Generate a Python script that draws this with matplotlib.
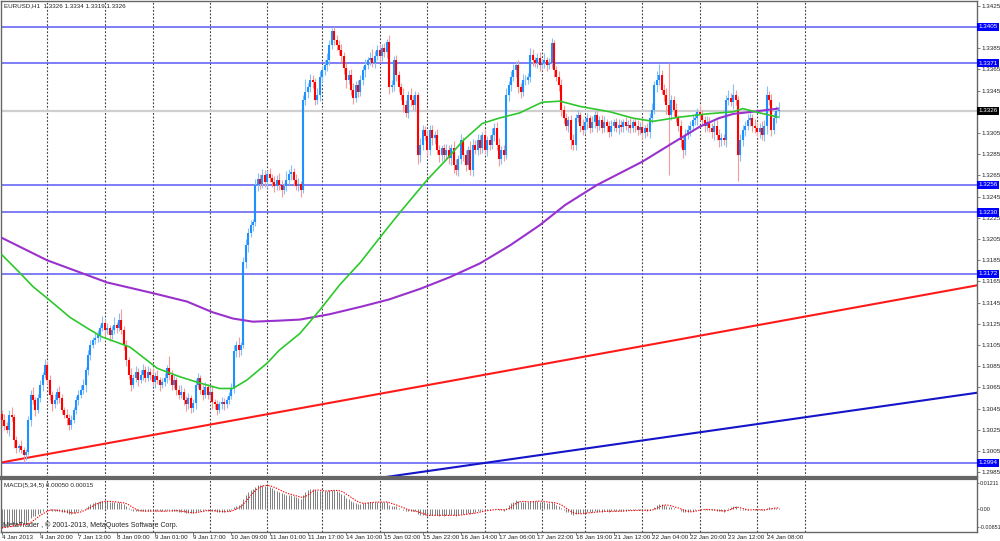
import numpy as np
import pandas as pd
import matplotlib
matplotlib.use('Agg')
import matplotlib.pyplot as plt

plt.rcParams['font.family'] = ['Liberation Sans', 'DejaVu Sans']

# === data (EURUSD H1, prices in pips above 1.3000) ===
BASE = 1.3000
PIP = 0.0001
first_open_pips = 40

close_pips = [
    34, 29, 25, 39, 37, 15, 8, 10, 6, 1,
    4, 34, 58, 53, 44, 55, 67, 77, 86, 72,
    58, 49, 53, 61, 55, 44, 39, 36, 30, 34,
    44, 53, 58, 63, 67, 81, 96, 105, 110, 112,
    114, 121, 126, 119, 121, 114, 119, 124, 121, 129,
    119, 105, 91, 77, 67, 74, 80, 72, 77, 81,
    74, 80, 77, 70, 76, 72, 67, 70, 74, 83,
    77, 67, 72, 63, 58, 61, 53, 49, 55, 46,
    50, 67, 74, 63, 58, 65, 58, 61, 51, 49,
    44, 49, 51, 49, 53, 57, 64, 99, 105, 100,
    105, 183, 199, 211, 218, 221, 256, 262, 257, 265,
    259, 266, 263, 259, 255, 261, 256, 251, 255, 261,
    266, 268, 261, 255, 257, 251, 336, 344, 348, 355,
    353, 336, 341, 358, 364, 369, 374, 388, 401, 393,
    388, 383, 378, 366, 355, 360, 346, 338, 350, 344,
    355, 364, 369, 374, 376, 371, 378, 383, 378, 385,
    381, 391, 348, 350, 374, 360, 348, 341, 331, 324,
    341, 336, 331, 341, 284, 294, 308, 302, 289, 308,
    300, 303, 289, 284, 291, 284, 289, 281, 291, 275,
    270, 280, 298, 284, 275, 289, 270, 294, 289, 298,
    291, 303, 289, 298, 294, 303, 310, 294, 280, 289,
    284, 341, 350, 358, 364, 369, 348, 344, 355, 355,
    358, 379, 374, 371, 376, 369, 371, 374, 369, 371,
    390, 364, 358, 350, 327, 319, 312, 317, 298, 294,
    319, 322, 312, 308, 315, 319, 310, 315, 322, 312,
    317, 310, 315, 312, 306, 312, 315, 310, 313, 311,
    315, 312, 313, 310, 315, 312, 308, 311, 305, 310,
    306, 319, 327, 350, 355, 360, 346, 341, 331, 322,
    336, 327, 319, 312, 298, 289, 303, 308, 312, 317,
    319, 325, 322, 317, 312, 315, 310, 306, 312, 303,
    298, 300, 298, 336, 338, 334, 341, 336, 284, 298,
    308, 312, 317, 319, 312, 310, 306, 310, 303, 312,
    341, 336, 308, 319, 326, 326,
]

upper_wick = [
    4, 6, 3, 5, 8, 3, 4, 2, 5, 3,
    3, 4, 5, 7, 3, 4, 5, 3, 6, 4,
    5, 4, 6, 3, 5, 4, 3, 6, 4, 5,
    3, 4, 5, 4, 6, 3, 4, 5, 3, 4,
    5, 3, 6, 4, 5, 3, 4, 7, 3, 6,
    10, 4, 5, 3, 6, 4, 5, 3, 4, 6,
    4, 5, 3, 6, 4, 5, 3, 4, 5, 3,
    12, 4, 5, 3, 4, 6, 3, 4, 5, 3,
    4, 6, 5, 3, 4, 5, 3, 4, 6, 3,
    4, 3, 5, 4, 3, 4, 5, 6, 4, 8,
    3, 5, 6, 4, 5, 3, 6, 5, 4, 6,
    5, 4, 6, 3, 5, 4, 6, 5, 3, 8,
    5, 7, 4, 5, 6, 3, 5, 12, 4, 6,
    5, 4, 6, 5, 4, 5, 6, 5, 3, 4,
    4, 5, 6, 3, 5, 4, 5, 6, 4, 5,
    5, 4, 6, 3, 5, 8, 4, 5, 6, 4,
    5, 3, 6, 5, 4, 5, 3, 4, 6, 5,
    4, 6, 5, 4, 3, 6, 5, 4, 6, 5,
    5, 4, 6, 5, 3, 4, 6, 5, 4, 6,
    5, 4, 6, 3, 5, 4, 8, 5, 4, 6,
    5, 3, 6, 4, 5, 7, 4, 5, 6, 4,
    5, 6, 4, 5, 6, 4, 5, 4, 6, 5,
    4, 6, 5, 3, 4, 5, 4, 6, 3, 5,
    5, 3, 4, 5, 6, 4, 5, 4, 5, 6,
    4, 5, 3, 6, 4, 5, 3, 6, 4, 5,
    4, 5, 6, 3, 4, 5, 3, 4, 5, 4,
    3, 5, 4, 6, 3, 4, 5, 4, 6, 3,
    4, 5, 6, 4, 8, 10, 4, 5, 6, 40,
    5, 4, 6, 3, 5, 4, 6, 5, 4, 6,
    5, 4, 6, 5, 4, 6, 5, 4, 6, 5,
    6, 5, 4, 5, 8, 5, 10, 5, 4, 6,
    5, 4, 6, 5, 4, 6, 5, 4, 6, 5,
    8, 4, 6, 5, 4, 8,
]

lower_wick = [
    5, 4, 3, 6, 4, 7, 5, 4, 3, 6,
    4, 3, 5, 4, 6, 3, 4, 5, 3, 4,
    5, 6, 3, 4, 5, 4, 3, 6, 5, 4,
    3, 4, 5, 3, 4, 6, 4, 5, 3, 4,
    4, 5, 3, 6, 4, 5, 3, 4, 5, 3,
    4, 5, 6, 4, 5, 3, 4, 6, 3, 5,
    4, 3, 5, 4, 6, 4, 5, 3, 4, 5,
    5, 4, 3, 5, 4, 3, 5, 6, 4, 5,
    4, 5, 3, 4, 5, 3, 4, 5, 6, 4,
    5, 3, 4, 5, 3, 4, 3, 4, 5, 6,
    4, 3, 5, 6, 4, 5, 4, 6, 5, 4,
    5, 6, 4, 5, 6, 4, 5, 6, 4, 5,
    4, 5, 6, 4, 5, 6, 3, 5, 6, 4,
    6, 5, 4, 6, 5, 4, 6, 5, 4, 5,
    5, 4, 6, 5, 8, 4, 5, 6, 4, 5,
    4, 5, 6, 4, 5, 4, 5, 4, 6, 5,
    4, 5, 6, 4, 5, 6, 4, 5, 6, 4,
    5, 6, 4, 5, 8, 6, 5, 4, 6, 5,
    6, 5, 4, 6, 5, 6, 4, 5, 6, 8,
    5, 6, 4, 5, 6, 4, 5, 6, 4, 5,
    6, 5, 4, 6, 5, 4, 6, 5, 6, 4,
    5, 4, 6, 5, 4, 6, 5, 6, 4, 5,
    4, 5, 6, 4, 5, 6, 4, 5, 6, 4,
    5, 6, 4, 5, 6, 5, 4, 6, 8, 5,
    5, 4, 6, 5, 4, 6, 5, 4, 5, 6,
    4, 5, 4, 6, 5, 4, 5, 4, 6, 5,
    5, 4, 6, 5, 4, 6, 5, 4, 6, 5,
    4, 6, 5, 4, 6, 5, 4, 6, 8, 57,
    5, 6, 4, 5, 6, 8, 5, 4, 6, 5,
    4, 6, 5, 4, 6, 5, 4, 6, 8, 5,
    6, 5, 4, 6, 5, 4, 6, 5, 24, 5,
    5, 6, 4, 5, 6, 5, 4, 6, 5, 6,
    8, 5, 6, 4, 5, 7,
]

# moving averages (bar index, pips)
ma_fast_bars = [0, 7.5, 13, 19, 28.5, 35.6, 42, 53.6, 65, 74.5, 83, 91, 96.6, 102.5,
                111, 116, 124.7, 133, 141.4, 150, 158, 166.5, 178, 186, 193, 201,
                208, 216.7, 226, 233.5, 242, 254.4, 264, 272.4, 283.7, 295, 306,
                310, 317, 324.7]
ma_fast_pips = [190, 173, 160, 149, 131, 121, 112.5, 103, 83, 75, 69, 64, 64, 72,
                88, 100, 116, 138, 162, 183, 206, 230, 261, 280, 298, 314,
                319, 324, 334, 335, 330, 325, 319, 316, 320, 323, 325,
                328, 324, 320]
ma_slow_bars = [0, 18.8, 35.6, 44, 63, 77.4, 88, 96.6, 105, 116, 124.7, 137, 150,
                162, 175, 187.4, 200, 212.6, 225, 235.6, 249, 268, 281, 292, 300,
                306, 314, 324.7]
ma_slow_pips = [206, 185, 171, 164, 154, 146, 136, 130, 127, 128, 129, 134, 141,
                148, 158, 169, 182, 199, 218, 237, 256, 278, 296, 311, 319,
                323, 325, 328]

levels = [1.3405, 1.3371, 1.3256, 1.3230, 1.3172, 1.2994]
last_price = 1.3326
red_trend = [(0, 1.29943), (400, 1.31580)]
blue_trend = [(166, 1.29822), (400, 1.30574)]

day_bars = [19, 43, 63, 87, 111, 134, 158, 178, 202, 226, 244, 268, 292, 316, 336]
time_labels = ['4 Jan 2013', '4 Jan 20:00', '7 Jan 13:00', '8 Jan 09:00', '9 Jan 01:00',
               '9 Jan 17:00', '10 Jan 09:00', '11 Jan 01:00', '11 Jan 17:00',
               '14 Jan 10:00', '15 Jan 02:00', '15 Jan 22:00', '16 Jan 14:00',
               '17 Jan 06:00', '17 Jan 22:00', '18 Jan 19:00', '21 Jan 12:00',
               '22 Jan 04:00', '22 Jan 20:00', '23 Jan 12:00', '24 Jan 08:00']
label_step = 16

# MACD(5,34,5): EMA state carried in from before the visible window
ema_fast_seed = 1.3040
ema_slow_seed = 1.3130
macd_marks = [0.01211, 0.0, -0.00851]

# === colours ===
BULL = '#1E90FF'
BULL_W = '#86C0F6'
BEAR = '#FF0000'
BEAR_W = '#F69A9A'
LEVEL = '#5A5AF5'
GRID = '#404040'
TXT = '#222222'
FS = 4.5


def ema(values, period, seed):
    k = 2.0 / (period + 1)
    out = []
    e = seed
    for v in values:
        e = e + k * (v - e)
        out.append(e)
    return np.array(out)


close = BASE + np.array(close_pips, dtype=float) * PIP
open_ = np.r_[BASE + first_open_pips * PIP, close[:-1]]
high = np.maximum(open_, close) + np.array(upper_wick) * PIP
low = np.minimum(open_, close) - np.array(lower_wick) * PIP
n = len(close)
bars = np.arange(n)
up = close >= open_

macd = ema(close, 5, ema_fast_seed) - ema(close, 34, ema_slow_seed)
signal = pd.Series(macd).rolling(5, min_periods=1).mean().values

fig = plt.figure(figsize=(10, 5.41), dpi=100)
fig.patch.set_facecolor('white')
ax = fig.add_axes([0.001, 1 - 477 / 541, 0.976, 476 / 541])
axm = fig.add_axes([0.001, 1 - 532 / 541, 0.976, 53 / 541])

xlim = (-0.42, 408)
for a in (ax, axm):
    a.set_xlim(*xlim)
    for s in a.spines.values():
        s.set_color('#666666')
        s.set_linewidth(1.0)
    for b in day_bars:
        a.axvline(b, color=GRID, lw=0.8, ls=(0, (1.6, 1.6)), zorder=1)

# --- main price panel ---
ax.set_ylim(1.29805, 1.34295)
ax.spines['bottom'].set_linewidth(1.6)
for lv in levels:
    ax.axhline(lv, color=LEVEL, lw=1.1, zorder=2)
ax.axhline(last_price, color='#CFCFCF', lw=1.6, zorder=1.5)

(x0, y0), (x1, y1) = red_trend
ax.axline((x0, y0), (x1, y1), color='#FF1A1A', lw=1.5, zorder=2)
(x0, y0), (x1, y1) = blue_trend
ax.axline((x0, y0), (x1, y1), color='#1414C8', lw=1.5, zorder=2)

body_lo = np.minimum(open_, close)
body_hi = np.maximum(np.maximum(open_, close), body_lo + 0.3 * PIP)
ax.vlines(bars, low, high, colors=np.where(up, BULL_W, BEAR_W), lw=0.8, zorder=3)
ax.vlines(bars, body_lo, body_hi, colors=np.where(up, BULL, BEAR), lw=1.5, zorder=4)

ax.plot(ma_slow_bars, BASE + np.array(ma_slow_pips) * PIP, color='#9932CC', lw=1.5, zorder=5)
ax.plot(ma_fast_bars, BASE + np.array(ma_fast_pips) * PIP, color='#2DC82D', lw=1.2, zorder=5)

# price scale; the ticks under the 1.3405 and 1.3326 boxes stay unlabelled
ticks = np.round(np.arange(1.2985, 1.34251, 0.0020), 4)
boxed = levels + [last_price]
tick_txt = ['' if min(abs(t - b) for b in boxed) < 0.00015 else f'{t:.4f}' for t in ticks]
ax.set_yticks(ticks)
ax.set_yticklabels(tick_txt)
ax.yaxis.tick_right()
ax.tick_params(axis='y', length=2, width=0.6, pad=1.5, labelsize=FS,
               colors='#666666', labelcolor=TXT)
ax.set_xticks([])

ytr = ax.get_yaxis_transform()
for lv in levels:
    ax.text(1.0015, lv, f'{lv:.4f}', transform=ytr, fontsize=FS, color='white',
            va='center', ha='left', clip_on=False, zorder=10,
            bbox=dict(boxstyle='square,pad=0.25', fc='#0000FF', ec='none'))
ax.text(1.0015, last_price, f'{last_price:.4f}', transform=ytr, fontsize=FS,
        color='white', va='center', ha='left', clip_on=False, zorder=10,
        bbox=dict(boxstyle='square,pad=0.25', fc='#000000', ec='none'))

ax.text(0.003, 0.995, 'EURUSD,H1  1.3326 1.3334 1.3319 1.3326', transform=ax.transAxes,
        fontsize=FS, color=TXT, va='top', ha='left')

# --- MACD panel ---
axm.set_ylim(-0.01059, 0.01381)
axm.spines['top'].set_linewidth(1.6)
axm.vlines(bars, 0, macd, colors='#6A6A6A', lw=0.6, zorder=3)
axm.plot(bars, signal, color='#FF0000', lw=0.8, ls=(0, (1.2, 1.2)), zorder=4)
axm.set_yticks(macd_marks)
axm.set_yticklabels(['0.01211', '0.00', '-0.00851'])
axm.yaxis.tick_right()
axm.tick_params(axis='y', length=1.5, width=0.6, pad=0.5, labelsize=3.9,
                colors='#666666', labelcolor=TXT)

tick_bars = [i * label_step for i in range(len(time_labels))]
axm.set_xticks(tick_bars)
axm.set_xticklabels(time_labels, ha='left')
axm.tick_params(axis='x', length=2, width=0.6, pad=0.5, labelsize=FS,
                colors='#666666', labelcolor=TXT)

axm.text(0.003, 0.93, 'MACD(5,34,5) 0.00050 0.00015', transform=axm.transAxes,
         fontsize=FS, color=TXT, va='top', ha='left')
axm.text(0.002, 0.06, 'MetaTrader , \u00a9 2001-2013, MetaQuotes Software Corp.',
         transform=axm.transAxes, fontsize=5.0, color=TXT, va='bottom', ha='left')

fig.savefig('out.png', dpi=100)
